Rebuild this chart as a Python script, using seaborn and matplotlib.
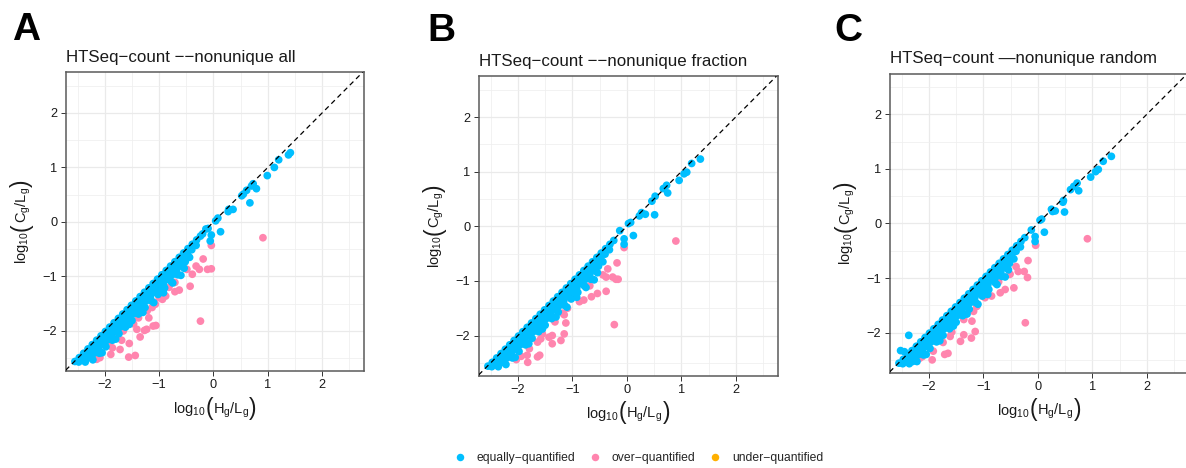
import numpy as np
import pandas as pd
import matplotlib
matplotlib.use("Agg")
import matplotlib.pyplot as plt
from matplotlib.lines import Line2D
import seaborn as sns

# ---------------- data ----------------
categories = ["equally-quantified", "over-quantified", "under-quantified"]
legend_labels = ["equally\u2212quantified", "over\u2212quantified", "under\u2212quantified"]
colors = {"equally-quantified": "#00BFFF", "over-quantified": "#FF85AE", "under-quantified": "#FFB000"}

# dense band of equally-quantified genes (shared shape in all panels)
band0_x = [-2.55, -2.47, -2.39, -2.31, -2.23, -2.15, -2.07, -1.99, -1.91, -1.83, -1.75, -1.67, -1.59, -1.51, -1.43,
           -1.35, -1.27, -1.19, -1.11, -1.03, -0.95, -0.87, -0.79, -0.71, -0.63, -0.55, -0.47, -0.39, -0.31, -0.24]
band0_y = [-2.56, -2.49, -2.41, -2.33, -2.25, -2.17, -2.09, -2.01, -1.93, -1.85, -1.77, -1.69, -1.61, -1.53, -1.45,
           -1.37, -1.29, -1.21, -1.13, -1.05, -0.97, -0.89, -0.81, -0.73, -0.65, -0.57, -0.49, -0.41, -0.33, -0.26]
band1_x = [-2.48, -2.40, -2.32, -2.24, -2.16, -2.08, -2.00, -1.92, -1.84, -1.76, -1.68, -1.60, -1.52, -1.44,
           -1.36, -1.28, -1.20, -1.12, -1.04, -0.96, -0.88, -0.80, -0.72, -0.64, -0.56, -0.48, -0.40, -0.32]
band1_y = [-2.57, -2.51, -2.43, -2.35, -2.27, -2.19, -2.11, -2.03, -1.95, -1.87, -1.79, -1.71, -1.63, -1.55,
           -1.47, -1.39, -1.31, -1.23, -1.15, -1.07, -0.99, -0.91, -0.83, -0.75, -0.67, -0.59, -0.51, -0.43]
band2_x = [-2.36, -2.28, -2.20, -2.12, -2.04, -1.96, -1.88, -1.80, -1.72, -1.64, -1.56, -1.48, -1.40,
           -1.32, -1.24, -1.16, -1.08, -1.00, -0.92, -0.84, -0.76, -0.68, -0.60, -0.52, -0.44]
band2_y = [-2.57, -2.49, -2.41, -2.33, -2.25, -2.17, -2.09, -2.01, -1.93, -1.85, -1.77, -1.69, -1.61,
           -1.53, -1.45, -1.37, -1.29, -1.21, -1.13, -1.05, -0.97, -0.89, -0.81, -0.73, -0.65]
band3_x = [-2.22, -2.10, -1.98, -1.86, -1.74, -1.62, -1.50, -1.38, -1.26, -1.14, -1.02, -0.90, -0.78, -0.66, -0.54]
band3_y = [-2.53, -2.41, -2.29, -2.17, -2.05, -1.93, -1.81, -1.69, -1.57, -1.45, -1.33, -1.21, -1.09, -0.97, -0.85]
band4_x = [-2.05, -1.80, -1.55, -1.30, -1.10, -0.92, -0.75, -0.60]
band4_y = [-2.40, -2.15, -1.88, -1.66, -1.48, -1.30, -1.12, -0.98]

# panel A: --nonunique all
a_eq_x = [1.415, 1.38, 1.20, 1.12, 0.99, 0.79, 0.73, 0.70, 0.61, 0.55, 0.52, 0.67, 0.36, 0.28, 0.27,
          0.08, 0.04, 0.13, -0.04, -0.06, -0.14, -0.20, -0.10]
a_eq_y = [1.27, 1.23, 1.14, 1.00, 0.85, 0.61, 0.70, 0.66, 0.58, 0.51, 0.48, 0.35, 0.23, 0.23, 0.19,
          0.07, 0.02, -0.18, -0.24, -0.35, -0.13, -0.22, -0.12]
a_over_x = [0.91, -0.24, -0.04, -0.19, -0.04, -0.11, -0.26, -0.32, -0.39, -0.43, -0.63, -0.71, -0.49, -0.71,
            -0.88, -0.94, -1.07, -1.11, -1.06, -1.23, -1.27, -1.35, -1.41, -1.38, -1.22, -1.19, -1.47, -1.55,
            -1.44, -1.56, -1.72, -1.89, -1.86, -1.69, -1.66, -1.78, -2.09, -2.15, -1.94, -0.82, -1.00, -1.13]
a_over_y = [-0.29, -1.82, -0.43, -0.68, -0.86, -0.87, -0.87, -0.81, -0.96, -1.18, -1.25, -1.28, -0.87, -1.11,
            -1.36, -1.42, -1.51, -1.91, -1.90, -1.97, -1.99, -2.11, -1.97, -1.76, -1.63, -1.76, -1.87, -2.23,
            -2.45, -2.48, -2.34, -2.43, -2.31, -2.17, -2.00, -2.11, -2.49, -2.52, -2.24, -1.20, -1.39, -1.57]

# panel B: --nonunique fraction
b_eq_x = [1.35, 1.19, 1.10, 1.05, 0.96, 0.75, 0.73, 0.67, 0.52, 0.46, 0.51, 0.34, 0.27, 0.23,
          0.07, 0.03, 0.12, -0.05, -0.05, -0.13]
b_eq_y = [1.23, 1.15, 0.99, 0.96, 0.84, 0.61, 0.75, 0.69, 0.55, 0.46, 0.21, 0.22, 0.25, 0.19,
          0.07, 0.05, -0.17, -0.23, -0.33, -0.08]
b_over_x = [0.90, -0.23, -0.05, -0.18, -0.20, -0.16, -0.26, -0.38, -0.35, -0.44, -0.38, -0.54, -0.65, -0.68,
            -0.79, -0.87, -1.09, -1.15, -1.18, -1.12, -1.15, -1.21, -1.32, -1.37, -1.43, -1.37, -1.58, -1.55,
            -1.64, -1.60, -1.64, -1.79, -1.83, -1.82, -1.94, -2.03, -1.03]
b_over_y = [-0.27, -1.80, -0.39, -0.67, -0.97, -0.97, -0.93, -0.93, -0.78, -0.89, -1.19, -1.23, -1.29, -1.09,
            -1.35, -1.38, -1.50, -1.62, -1.59, -1.77, -1.97, -2.09, -1.75, -2.00, -2.03, -2.15, -2.06, -1.97,
            -2.12, -2.36, -2.39, -2.24, -2.36, -2.49, -2.38, -2.44, -1.32]

# panel C: --nonunique random
c_eq_x = [1.35, 1.20, 1.11, 1.06, 0.97, 0.75, 0.72, 0.66, 0.60, 0.49, 0.47, 0.46, 0.32, 0.27, 0.25,
          0.07, 0.04, 0.12, -0.05, -0.05, -0.12, -2.37, -2.52, -2.45, -2.40, -2.30, -2.22]
c_eq_y = [1.23, 1.14, 0.99, 0.95, 0.85, 0.60, 0.74, 0.68, 0.62, 0.21, 0.42, 0.39, 0.23, 0.22, 0.26,
          0.08, 0.06, -0.16, -0.24, -0.33, -0.12, -2.05, -2.33, -2.35, -2.50, -2.53, -2.38]
c_over_x = [0.91, -0.23, -0.04, -0.18, -0.19, -0.25, -0.36, -0.40, -0.44, -0.51, -0.60, -0.69, -0.72, -0.85,
            -0.97, -1.12, -1.18, -1.21, -1.15, -1.22, -1.36, -1.36, -1.42, -1.58, -1.61, -1.74, -1.65, -1.71,
            -1.92, -1.94, -2.12, -2.17]
c_over_y = [-0.28, -1.82, -0.40, -0.68, -0.99, -0.88, -0.88, -0.79, -1.18, -0.93, -1.21, -1.27, -1.07, -1.33,
            -1.36, -1.52, -1.61, -1.79, -1.98, -2.10, -1.76, -2.04, -2.16, -1.99, -2.07, -2.18, -2.38, -2.40,
            -2.34, -2.50, -2.44, -2.47]

panel_letters = ["A", "B", "C"]
panel_titles = ["HTSeq\u2212count \u2212\u2212nonunique all",
                "HTSeq\u2212count \u2212\u2212nonunique fraction",
                "HTSeq\u2212count \u2014nonunique random"]
ticks = [-2, -1, 0, 1, 2]
minor_ticks = [-2.5, -1.5, -0.5, 0.5, 1.5, 2.5]
xlim = (-2.72, 2.77)
ylim = (-2.735, 2.745)

# axis-title pieces: log10 ( H_g / L_g )  with tall parentheses
x_label_parts = [r"$\mathrm{log}_{10}$", "(", r"$\mathrm{H}_{\mathrm{g}}/\mathrm{L}_{\mathrm{g}}$", ")"]
y_label_parts = [r"$\mathrm{log}_{10}$", "(", r"$\mathrm{C}_{\mathrm{g}}/\mathrm{L}_{\mathrm{g}}$", ")"]

# ---------------- styling ----------------
sns.set_theme(style="white")
plt.rcParams["font.family"] = ["Liberation Sans", "DejaVu Sans"]
plt.rcParams["mathtext.fontset"] = "custom"
plt.rcParams["mathtext.rm"] = "Liberation Sans"
plt.rcParams["mathtext.it"] = "Liberation Sans:italic"
plt.rcParams["mathtext.bf"] = "Liberation Sans:bold"
plt.rcParams["axes.unicode_minus"] = True

W, H = 1186, 468
fig = plt.figure(figsize=(W / 100, H / 100), dpi=100)
renderer = fig.canvas.get_renderer()

LABEL_FS = 10.5
PAREN_FS = 16.5
PAREN_DROP = 1.4  # px


def part_style(s):
    if s in ("(", ")"):
        return PAREN_FS, PAREN_DROP
    return LABEL_FS, 0.0


def part_width(s):
    fs, _ = part_style(s)
    t = fig.text(0, 0, s, fontsize=fs)
    w = t.get_window_extent(renderer).width
    t.remove()
    return w


def draw_label(parts, cx, cy, vertical):
    widths = [part_width(s) for s in parts]
    total = sum(widths)
    pos = -total / 2.0
    for s, w in zip(parts, widths):
        fs, drop = part_style(s)
        if not vertical:
            fig.text((cx + pos) / W, 1 - (cy + drop) / H, s, fontsize=fs, color="#1a1a1a",
                     ha="left", va="baseline")
        else:
            fig.text((cx + drop) / W, 1 - (cy - pos) / H, s, fontsize=fs, color="#1a1a1a",
                     ha="left", va="baseline", rotation=90, rotation_mode="anchor")
        pos += w


# axes boxes in pixels: left, top, width, height
boxes = [(65.7, 72.3, 298.3, 298.7), (478.7, 76.3, 299.0, 299.4), (889.7, 73.7, 299.0, 299.0)]
letter_pos = [(12, 40.5), (427.5, 41), (834.5, 41)]

band_x = band0_x + band1_x + band2_x + band3_x + band4_x
band_y = band0_y + band1_y + band2_y + band3_y + band4_y

panels = [
    (a_eq_x, a_eq_y, a_over_x, a_over_y),
    (b_eq_x, b_eq_y, b_over_x, b_over_y),
    (c_eq_x, c_eq_y, c_over_x, c_over_y),
]

for i, (eqx, eqy, ovx, ovy) in enumerate(panels):
    l, t, w, h = boxes[i]
    ax = fig.add_axes([l / W, 1 - (t + h) / H, w / W, h / H])
    df = pd.concat([
        pd.DataFrame({"x": ovx, "y": ovy, "group": "over-quantified"}),
        pd.DataFrame({"x": band_x, "y": band_y, "group": "equally-quantified"}),
        pd.DataFrame({"x": eqx, "y": eqy, "group": "equally-quantified"}),
    ], ignore_index=True)
    sns.scatterplot(data=df, x="x", y="y", hue="group", palette=colors, s=31,
                    linewidth=0, alpha=1, legend=False, ax=ax, zorder=3)
    ax.axline((0, 0), slope=1, color="black", lw=0.9, ls=(0, (4, 3)), zorder=4)
    ax.set_xlim(*xlim)
    ax.set_ylim(*ylim)
    ax.set_xticks(ticks)
    ax.set_yticks(ticks)
    ax.set_xticks(minor_ticks, minor=True)
    ax.set_yticks(minor_ticks, minor=True)
    ax.grid(which="major", color="#EAEAEA", lw=0.9, zorder=0)
    ax.grid(which="minor", color="#EFEFEF", lw=0.55, zorder=0)
    ax.set_axisbelow(True)
    ax.tick_params(which="major", direction="out", length=3.5, width=0.7, color="#333333",
                   labelsize=9.2, labelcolor="#1a1a1a", pad=2.5, bottom=True, left=True)
    ax.tick_params(which="minor", length=0)
    for sp in ax.spines.values():
        sp.set_color("#5a5a5a")
        sp.set_linewidth(1.1)
    ax.set_xlabel("")
    ax.set_ylabel("")
    ax.set_title(panel_titles[i], loc="left", fontsize=12.2, pad=7.5, color="#1a1a1a")
    # axis titles
    draw_label(x_label_parts, l + w / 2.0, t + h + 42.3, vertical=False)
    draw_label(y_label_parts, l - 39.5, t + h / 2.0, vertical=True)
    lx, ly = letter_pos[i]
    fig.text(lx / W, 1 - ly / H, panel_letters[i], fontsize=28, fontweight="bold",
             va="baseline", ha="left", color="black")

handles = [Line2D([0], [0], marker="o", ls="", markersize=5.4, markeredgewidth=0,
                  markerfacecolor=colors[c]) for c in categories]
fig.legend(handles, legend_labels, loc="center", bbox_to_anchor=(638.5 / W, 1 - 458.5 / H),
           ncol=3, frameon=False, fontsize=8.7, handlelength=1.0, handletextpad=0.9,
           columnspacing=1.1, borderpad=0)

fig.savefig("out.png", dpi=100)
